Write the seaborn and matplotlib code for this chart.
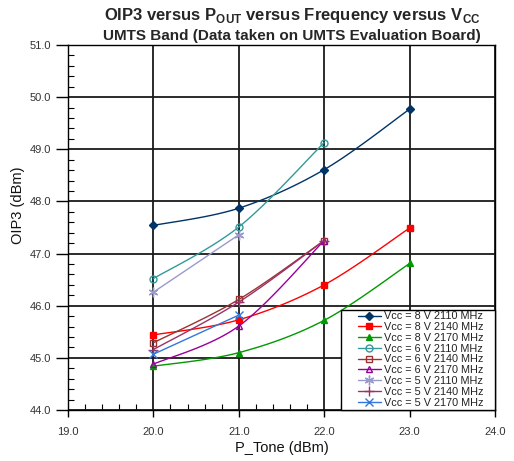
import numpy as np
import pandas as pd
import matplotlib
matplotlib.use("Agg")
import matplotlib.pyplot as plt
from matplotlib.lines import Line2D
from matplotlib.patches import Rectangle
from matplotlib.ticker import MultipleLocator
import seaborn as sns

# Tone power (dBm) at which each OIP3 measurement was taken
p_tone = [20.0, 21.0, 22.0, 23.0]

# OIP3 (dBm) per supply voltage / frequency
oip3_8v_2110 = [47.54, 47.87, 48.61, 49.77]
oip3_8v_2140 = [45.44, 45.73, 46.40, 47.49]
oip3_8v_2170 = [44.84, 45.10, 45.72, 46.81]
oip3_6v_2110 = [46.52, 47.51, 49.13]
oip3_6v_2140 = [45.29, 46.12, 47.25]
oip3_6v_2170 = [44.88, 45.61, 47.25]
oip3_5v_2110 = [46.26, 47.36]
oip3_5v_2140 = [45.16, 46.07, 47.25]
oip3_5v_2170 = [45.07, 45.82]

series_labels = [
    "Vcc = 8 V 2110 MHz", "Vcc = 8 V 2140 MHz", "Vcc = 8 V 2170 MHz",
    "Vcc = 6 V 2110 MHz", "Vcc = 6 V 2140 MHz", "Vcc = 6 V 2170 MHz",
    "Vcc = 5 V 2110 MHz", "Vcc = 5 V 2140 MHz", "Vcc = 5 V 2170 MHz",
]
series_values = [
    oip3_8v_2110, oip3_8v_2140, oip3_8v_2170,
    oip3_6v_2110, oip3_6v_2140, oip3_6v_2170,
    oip3_5v_2110, oip3_5v_2140, oip3_5v_2170,
]

x_ticks = [19.0, 20.0, 21.0, 22.0, 23.0, 24.0]
y_ticks = [44.0, 45.0, 46.0, 47.0, 48.0, 49.0, 50.0, 51.0]

# (color, marker, filled, marker size)
styles = [
    ("#003366", "D", True, 4.5),
    ("#FF0000", "s", True, 5.0),
    ("#009900", "^", True, 5.0),
    ("#339999", "o", False, 5),
    ("#993333", "s", False, 5.0),
    ("#990099", "^", False, 5.0),
    ("#9999CC", (6, 2, 0), False, 7),
    ("#993366", "+", False, 7),
    ("#3377DD", "x", False, 5.5),
]

rows = []
for label, vals in zip(series_labels, series_values):
    for x, y in zip(p_tone, vals):
        rows.append({"series": label, "P_Tone": x, "OIP3": y})
df = pd.DataFrame(rows)


def smooth(xs, ys, n=24):
    """Catmull-Rom curve through the measured points (smoothed chart line)."""
    pts = np.column_stack([xs, ys]).astype(float)
    if len(pts) < 3:
        return pts[:, 0], pts[:, 1]
    out = []
    for i in range(len(pts) - 1):
        p0 = pts[i - 1] if i > 0 else pts[i]
        p1, p2 = pts[i], pts[i + 1]
        p3 = pts[i + 2] if i + 2 < len(pts) else pts[i + 1]
        t = np.linspace(0, 1, n, endpoint=(i == len(pts) - 2))[:, None]
        seg = 0.5 * ((2 * p1) + (-p0 + p2) * t + (2 * p0 - 5 * p1 + 4 * p2 - p3) * t ** 2
                     + (-p0 + 3 * p1 - 3 * p2 + p3) * t ** 3)
        out.append(seg)
    out = np.vstack(out)
    return out[:, 0], out[:, 1]


sns.set_theme(style="white")
plt.rcParams["font.family"] = ["Liberation Sans", "DejaVu Sans"]

fig = plt.figure(figsize=(5.14, 4.61), dpi=100)
ax = fig.add_axes([0.1323, 0.1106, 0.8307, 0.7918])

handles = []
for label, (color, marker, filled, ms) in zip(series_labels, styles):
    sub = df[df["series"] == label]
    sx, sy = smooth(sub["P_Tone"].values, sub["OIP3"].values)
    sns.lineplot(x=sx, y=sy, ax=ax, color=color, lw=1.0, sort=False,
                 estimator=None, zorder=3)
    face = color if filled else "none"
    ax.plot(sub["P_Tone"], sub["OIP3"], linestyle="none", marker=marker,
            markersize=ms, markerfacecolor=face, markeredgecolor=color,
            markeredgewidth=1.0, zorder=4)
    handles.append(Line2D([0], [0], color=color, lw=1.0, marker=marker,
                          markersize=ms, markerfacecolor=face,
                          markeredgecolor=color, markeredgewidth=1.0))

ax.set_xlim(19.0, 24.0)
ax.set_ylim(44.0, 51.0)
ax.set_xticks(x_ticks)
ax.set_yticks(y_ticks)
ax.set_xticklabels([f"{v:.1f}" for v in x_ticks])
ax.set_yticklabels([f"{v:.1f}" for v in y_ticks])
ax.xaxis.set_minor_locator(MultipleLocator(0.2))
ax.yaxis.set_minor_locator(MultipleLocator(0.2))

ax.grid(True, which="major", color="#1a1a1a", lw=1.3, zorder=1)
ax.set_axisbelow(True)
for side in ["left", "bottom", "top", "right"]:
    ax.spines[side].set_visible(True)
    ax.spines[side].set_color("black")
    ax.spines[side].set_linewidth(1.0)

ax.tick_params(axis="x", which="major", direction="out", length=5, width=1.0,
               color="black", labelsize=8, labelcolor="#333333", pad=7,
               bottom=True, top=False)
ax.tick_params(axis="y", which="major", direction="out", length=9, width=1.0,
               color="black", labelsize=8, labelcolor="#333333", pad=3,
               left=True, right=False)
ax.tick_params(which="minor", direction="in", length=4, width=0.8,
               color="black", bottom=True, left=True, top=False, right=False)

ax.set_xlabel("P_Tone (dBm)", fontsize=10.5, color="#111111")
ax.set_ylabel("OIP3 (dBm)", fontsize=10.5, color="#111111")
ax.yaxis.set_label_coords(-0.100, 0.562)
ax.xaxis.set_label_coords(0.5, -0.086)

fig.text(0.568, 0.967,
         r"OIP3 versus P$_{\mathregular{OUT}}$ versus Frequency versus V$_{\mathregular{CC}}$",
         ha="center", va="center", fontsize=12, fontweight="bold")
fig.text(0.568, 0.922, "UMTS Band (Data taken on UMTS Evaluation Board)",
         ha="center", va="center", fontsize=11, fontweight="bold")

# legend box anchored in the lower-right corner of the plot area
ax.add_patch(Rectangle((0.639, 0.0), 0.361, 0.274, transform=ax.transAxes,
                       facecolor="white", edgecolor="black", lw=1.0,
                       zorder=9, clip_on=False))
leg = ax.legend(handles, series_labels, loc="upper left",
                bbox_to_anchor=(0.679, 0.270), fontsize=7.8, frameon=False,
                handlelength=2.1, handletextpad=0.35, labelspacing=0.07,
                borderpad=0.0, borderaxespad=0.0)
for t in leg.get_texts():
    t.set_color("#222222")
leg.set_zorder(10)

fig.savefig("out.png", dpi=100)
